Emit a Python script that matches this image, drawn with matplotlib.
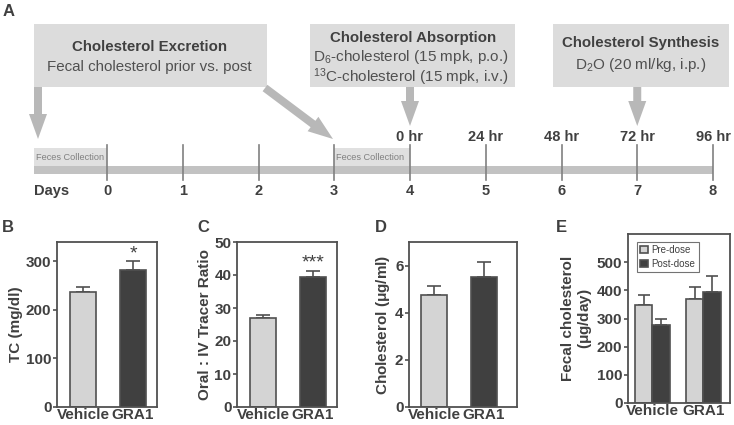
import matplotlib
matplotlib.use("Agg")
import matplotlib.pyplot as plt
from matplotlib.patches import Rectangle, FancyArrow

plt.rcParams['font.family'] = ['Liberation Sans', 'DejaVu Sans']
plt.rcParams['mathtext.default'] = 'regular'

TXT = '#404040'
LIGHT = '#d4d4d4'
DARK = '#404040'
EDGE = '#505050'
FS = 11

# ---------------- data ----------------
days = [0, 1, 2, 3, 4, 5, 6, 7, 8]
hour_days = [4, 5, 6, 7, 8]
hour_labels = ['0 hr', '24 hr', '48 hr', '72 hr', '96 hr']

groups = ['Vehicle', 'GRA1']
tc_vals = [238, 283]
tc_err = [10, 17]
ratio_vals = [27.0, 39.3]
ratio_err = [0.8, 2.0]
chol_vals = [4.75, 5.5]
chol_err = [0.38, 0.67]
fecal_pre = [347, 370]
fecal_pre_err = [36, 43]
fecal_post = [276, 395]
fecal_post_err = [21, 57]

fig = plt.figure(figsize=(7.34, 4.25), dpi=100)

# ---------------- panel A (schematic) ----------------
axA = fig.add_axes([0, 0, 1, 1])
axA.set_xlim(0, 734)
axA.set_ylim(425, 0)
axA.axis('off')
X0, STEP = 107, 75.75
dx = lambda d: X0 + d * STEP

axA.text(3, 11, 'A', fontsize=12, fontweight='bold', color=TXT, va='center')

# timeline bar
axA.add_patch(Rectangle((34, 166), dx(8) - 34, 8, color='#c2c2c2', lw=0))
for a, b in [(34, dx(0)), (dx(3), dx(4))]:
    axA.add_patch(Rectangle((a, 148), b - a, 18, color='#e0e0e0', lw=0))
    axA.text(a + 1.5, 157, 'Feces Collection', fontsize=6.6, color='#808080', va='center')
for d in days:
    axA.plot([dx(d), dx(d)], [145, 180], color='#808080', lw=1.2)
    axA.text(dx(d), 191, str(d), fontsize=10.5, fontweight='bold', color=TXT, ha='center', va='center')
axA.text(34, 191, 'Days', fontsize=10.5, fontweight='bold', color=TXT, va='center')
for d, lab in zip(hour_days, hour_labels):
    axA.text(dx(d), 137, lab, fontsize=10.5, fontweight='bold', color=TXT, ha='center', va='center')

# boxes
BOX = '#dcdcdc'
axA.add_patch(Rectangle((34, 24), 233, 63, color=BOX, lw=0))
axA.text(149, 47, 'Cholesterol Excretion', fontsize=10.8, fontweight='bold', color=TXT, ha='center', va='center')
axA.text(149, 67, 'Fecal cholesterol prior vs. post', fontsize=10.9, color='#505050', ha='center', va='center')

axA.add_patch(Rectangle((310, 24), 205, 63, color=BOX, lw=0))
axA.text(413, 38, 'Cholesterol Absorption', fontsize=10.8, fontweight='bold', color=TXT, ha='center', va='center')
axA.text(411, 57, r'D$_6$-cholesterol (15 mpk, p.o.)', fontsize=11, color='#505050', ha='center', va='center')
axA.text(411, 77, r'$^{13}$C-cholesterol (15 mpk, i.v.)', fontsize=11, color='#505050', ha='center', va='center')

axA.add_patch(Rectangle((553, 24), 176, 63, color=BOX, lw=0))
axA.text(641, 43, 'Cholesterol Synthesis', fontsize=10.8, fontweight='bold', color=TXT, ha='center', va='center')
axA.text(641, 65, r'D$_2$O (20 ml/kg, i.p.)', fontsize=11, color='#505050', ha='center', va='center')

# arrows
ARW = '#b8b8b8'
def arrow(x1, y1, x2, y2):
    axA.add_patch(FancyArrow(x1, y1, x2 - x1, y2 - y1, width=8, head_width=18,
                             head_length=25, length_includes_head=True, color=ARW, lw=0))
arrow(38, 87, 38, 139)
arrow(265, 88, 333, 139)
arrow(dx(4), 87, dx(4), 126)
arrow(dx(7), 87, dx(7), 126)

# ---------------- bar panels ----------------
def style(ax):
    for s in ax.spines.values():
        s.set_color(EDGE)
        s.set_linewidth(1.3)
    ax.tick_params(axis='y', direction='out', length=3, width=1.2, color=EDGE,
                   labelsize=FS, labelcolor=TXT, pad=1)
    ax.tick_params(axis='x', length=0, labelsize=FS, labelcolor=TXT, pad=1)
    for t in ax.get_xticklabels() + ax.get_yticklabels():
        t.set_fontweight('bold')

def two_bar(rect, vals, errs, ylim, yticks, ylabel, letter, letter_x, stars=None, xlim=(-0.52, 1.48)):
    ax = fig.add_axes(rect)
    x = range(len(groups))
    ax.bar(x, vals, width=0.52, color=[LIGHT, DARK], edgecolor=EDGE, linewidth=1.2, zorder=2)
    for xi, v, e in zip(x, vals, errs):
        ax.errorbar(xi, v, yerr=[[0], [e]], fmt='none', ecolor=EDGE, elinewidth=1.2,
                    capsize=5, capthick=1.2, zorder=1)
    if stars:
        ax.text(1, vals[1] + errs[1] - ylim[1] * 0.005, stars, ha='center', va='bottom',
                fontsize=14, color=TXT)
    ax.set_xlim(*xlim)
    ax.set_ylim(*ylim)
    ax.set_yticks(yticks)
    ax.set_xticks(list(x))
    ax.set_xticklabels(groups)
    ax.set_ylabel(ylabel, fontsize=FS, fontweight='bold', color=TXT, labelpad=2)
    style(ax)
    fig.text(letter_x, 1 - 228 / 425, letter, fontsize=12, fontweight='bold', color=TXT, va='center')
    return ax

H = 165 / 425
two_bar([57 / 734, 18 / 425, 100 / 734, H], tc_vals, tc_err, (0, 340), [0, 100, 200, 300],
        'TC (mg/dl)', 'B', 2 / 734, stars='*')
two_bar([237 / 734, 18 / 425, 100 / 734, H], ratio_vals, ratio_err, (0, 50), [0, 10, 20, 30, 40, 50],
        'Oral : IV Tracer Ratio', 'C', 197 / 734, stars='***')
two_bar([409 / 734, 18 / 425, 108 / 734, H], chol_vals, chol_err, (0, 7), [0, 2, 4, 6],
        r'Cholesterol ($\mu$g/ml)', 'D', 375 / 734, xlim=(-0.5, 1.66))

# panel E
axE = fig.add_axes([628 / 734, 22 / 425, 102 / 734, 169 / 425])
w = 0.34
gx = range(len(groups))
axE.bar([g - w / 2 for g in gx], fecal_pre, width=w, color=LIGHT, edgecolor=EDGE, linewidth=1.2,
        label='Pre-dose', zorder=2)
axE.bar([g + w / 2 for g in gx], fecal_post, width=w, color=DARK, edgecolor=EDGE, linewidth=1.2,
        label='Post-dose', zorder=2)
for g in gx:
    axE.errorbar(g - w / 2, fecal_pre[g], yerr=[[0], [fecal_pre_err[g]]], fmt='none', ecolor=EDGE,
                 elinewidth=1.2, capsize=4.5, capthick=1.2, zorder=1)
    axE.errorbar(g + w / 2, fecal_post[g], yerr=[[0], [fecal_post_err[g]]], fmt='none', ecolor=EDGE,
                 elinewidth=1.2, capsize=4.5, capthick=1.2, zorder=1)
axE.set_xlim(-0.48, 1.52)
axE.set_ylim(0, 600)
axE.set_yticks([0, 100, 200, 300, 400, 500])
axE.set_xticks(list(gx))
axE.set_xticklabels(groups)
axE.set_ylabel('Fecal cholesterol\n' + r'($\mu$g/day)', fontsize=FS, fontweight='bold', color=TXT,
               labelpad=2, linespacing=1.1)
style(axE)
leg = axE.legend(loc='upper left', bbox_to_anchor=(0.085, 0.955), fontsize=7, frameon=True,
                 fancybox=False, edgecolor=EDGE, handlelength=0.8, handleheight=0.8,
                 handletextpad=0.4, borderpad=0.35, labelspacing=0.4, borderaxespad=0)
leg.get_frame().set_linewidth(0.8)
for t in leg.get_texts():
    t.set_color(TXT)
fig.text(556 / 734, 1 - 228 / 425, 'E', fontsize=12, fontweight='bold', color=TXT, va='center')

fig.savefig('out.png', dpi=100)
